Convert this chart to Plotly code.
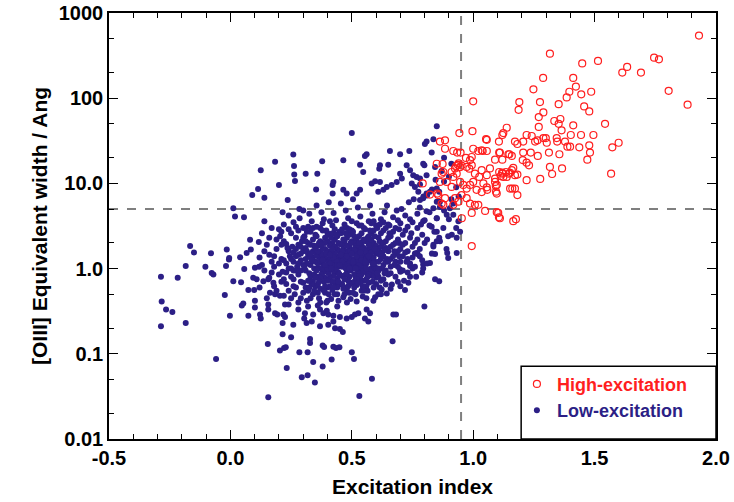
import plotly.graph_objects as go

# ---------------- data ----------------
high_pts = [
    (1.93,543),(1.316,333),(1.449,256),(1.514,274),(1.288,173),(1.412,173),(1.423,137),(1.396,119),
    (1.445,111),(1.486,119),(1.385,102),(1.248,127),(1.614,200),(1.634,233),(1.691,200),(1.745,299),
    (1.765,286),(1.805,122),(1.883,84),(1.190,90),(1.187,73),(1.275,90),(1.352,85),(1.457,80),
    (1.478,70),(1.270,60),(1.289,68),(1.334,54),(1.359,57),(1.352,50),(1.412,48),(1.543,50),
    (1.138,45),(1.124,39),(1.120,37),(1.270,46),(1.364,42),(1.220,37),(1.241,36),(1.289,34),
    (1.299,34),(1.402,37),(1.444,37),(1.495,37),(1.053,33),(1.172,31),(1.182,29),(1.206,31),
    (1.255,31),(1.265,32),(1.303,30),(1.344,34),(1.346,31),(1.378,31),(1.388,27),(1.399,27),
    (1.437,26.5),(1.478,28),(1.481,23),(1.470,19),(1.573,26.5),(1.599,30),(1.039,24),(1.056,24),
    (1.107,23),(1.149,22),(1.159,21),(1.206,23),(1.237,23),(1.266,21),(1.312,23),(1.355,22),
    (1.090,19),(1.120,19),(1.204,18.8),(1.220,17.5),(1.230,16.3),(1.316,15.6),(1.325,12.9),(1.366,15),
    (1.276,11.3),(1.568,13),(1.069,15),(1.035,14.3),(1.107,13.6),(1.119,13.4),(1.135,13.6),(1.147,13),
    (1.159,14.3),(1.165,15.2),(1.113,12.2),(1.124,11.9),(1.138,11.9),(1.172,12.5),(1.182,12.7),(1.220,10.9),
    (1.042,10),(1.056,9.0),(1.058,8.4),(1.090,10.4),(1.093,9.3),(1.094,8.0),(1.097,7.6),(1.152,8.7),
    (1.161,8.7),(1.182,7.3),(1.049,4.75),(1.097,4.6),(1.106,4.0),(1.165,3.6),(1.176,3.8),
    (1.000,92),(0.943,39),(0.997,41),(0.863,31),(0.918,24),(0.934,23),(0.948,23),(0.884,25.5),
    (1.056,32.5),(1.106,31),(1.000,25.5),(1.021,24),(1.035,24.5),(1.110,23),(1.145,22),(0.970,19.9),
    (0.987,18.8),(0.994,20.4),(0.930,16),(0.937,16.5),(0.945,15.5),(0.952,16.2),(0.925,15),(0.940,17.2),
    (0.874,16.9),(0.877,13.6),(0.911,13.6),(0.918,11.9),(0.932,13),(0.973,15.6),(0.984,14.9),(0.994,16.3),
    (1.007,13),(1.025,11.9),(1.056,12.5),(1.090,11.4),(1.121,13),(1.152,13.3),(0.863,10.4),(0.891,10.4),
    (0.911,9.1),(0.946,10.4),(0.959,9.6),(0.973,8.7),(0.987,9.6),(1.000,10.4),(1.014,8.4),(1.035,7.9),
    (1.097,9.6),(1.172,8.7),(0.856,7.3),(0.884,6.7),(0.925,6.7),(0.952,7.3),(0.973,6.7),(0.877,5.6),
    (0.918,5.6),(0.987,5.8),(1.007,5.6),(1.021,5.6),(0.994,4.5),(1.103,4.5),(1.110,3.9),(0.994,1.84),
    (0.792,10),(0.822,7.4),(0.870,5.8),(0.939,6.1),(0.953,3.9),(0.850,17),(0.870,13),(0.884,32),(0.852,7.6),
]

low_pts = [
    # outskirts
    (0.259,21.9),(0.184,17.9),(0.125,14.3),(0.262,16.0),(0.263,12.7),(0.266,10.7),(0.310,13.0),(0.200,9.6),
    (0.114,8.6),(0.090,7.3),(0.140,6.8),(0.236,6.4),(0.012,5.1),(0.019,4.1),(0.056,4.0),(0.140,3.6),
    (0.215,4.6),(0.284,5.0),(0.300,4.8),(-0.166,1.84),(-0.150,1.55),(-0.080,1.51),(-0.015,1.68),(0.040,1.36),
    (-0.005,1.33),(0.081,2.18),(0.117,2.05),(0.084,1.68),(-0.286,0.80),(-0.217,0.78),(-0.283,0.41),(-0.265,0.33),
    (-0.239,0.31),(-0.286,0.21),(-0.184,0.23),(-0.059,0.087),(-0.184,1.07),(-0.103,1.05),(-0.077,0.89),(-0.070,0.85),
    (-0.018,1.07),(-0.006,1.28),(0.067,1.52),(0.012,0.71),(0.044,0.69),(-0.023,0.49),(-0.002,0.28),(0.074,0.28),
    (0.047,0.37),(0.053,0.39),(0.074,0.56),(0.098,0.56),(0.057,0.99),(0.094,0.78),(0.108,0.75),(0.101,1.02),
    (0.118,1.05),(0.101,0.42),(0.101,0.35),(0.122,0.29),(0.125,0.26),(0.156,0.38),(0.156,0.33),(0.184,0.30),
    (0.193,0.29),(0.218,0.29),(0.225,0.27),(0.259,0.22),(0.304,0.26),(0.215,0.23),(0.215,0.17),(0.250,0.156),
    (0.154,0.13),(0.204,0.109),(0.221,0.117),(0.228,0.119),(0.284,0.104),(0.318,0.104),(0.232,0.068),(0.294,0.053),
    (0.318,0.056),(0.156,0.031),(0.163,0.52),(0.184,0.50),(0.204,0.48),(0.136,0.71),(0.156,0.75),(0.177,0.68),
    (0.799,0.36),(0.671,0.29),(0.682,0.29),(0.668,0.14),(0.531,0.032),(0.583,0.051),(0.500,0.104),(0.509,0.087),
    (0.424,0.121),(0.435,0.117),(0.449,0.119),(0.380,0.125),(0.386,0.12),(0.328,0.149),(0.328,0.134),(0.341,0.080),
    (0.380,0.071),(0.417,0.086),(0.348,0.046),(0.463,0.18),(0.451,0.195),(0.431,0.20),(0.369,0.21),(0.403,0.22),
    (0.424,0.24),(0.479,0.26),(0.500,0.27),(0.513,0.29),(0.527,0.30),(0.554,0.26),(0.568,0.24),(0.561,0.33),
    (0.575,0.30),(0.589,0.42),(0.596,0.46),(0.609,0.50),(0.644,0.51),(0.623,0.57),(0.719,0.56),(0.733,0.68),
    (0.843,0.75),(0.860,0.71),(0.794,1.12),(0.794,1.0),(0.822,1.16),(0.771,1.48),(0.843,1.48),(0.893,1.52),
    (0.740,1.07),(0.698,0.98),(0.307,0.30),(0.341,0.29),(0.383,0.30),(0.403,0.29),(0.424,0.28),(0.451,0.27),
    (0.314,0.23),(0.335,0.24),(0.369,0.33),(0.397,0.32),
    (0.850,47),(0.500,39),(0.808,31),(0.836,33),(0.801,29),(0.358,13.0),(0.378,18.2),(0.465,18.7),
    (0.561,22),(0.554,21),(0.657,24),(0.699,22),(0.737,24),(0.534,16.6),(0.547,13.6),(0.616,16.3),
    (0.613,14.9),(0.650,16.6),(0.726,16.3),(0.740,14.3),(0.753,12.5),(0.767,11.9),(0.799,16.3),(0.424,10.4),
    (0.421,9.6),(0.465,8.4),(0.353,8.5),(0.421,7.6),(0.479,7.6),(0.520,7.6),(0.534,8.4),(0.582,10),
    (0.596,10.6),(0.616,10.4),(0.699,13),(0.706,11.4),(0.685,10.4),(0.664,9.6),(0.644,9.1),(0.630,8.4),
    (0.609,8.0),(0.747,10),(0.760,9.1),(0.781,9.7),(0.774,8.0),(0.781,6.4),(0.808,7.6),(0.850,6.1),
    (0.863,5.3),(0.904,5.1),(0.918,5.8),(0.939,3.6),(0.946,2.7),(0.912,2.5),(0.897,2.4),(0.850,2.7),
    (0.767,1.52),(0.836,1.82),(0.932,1.52),(0.897,1.33),
    (0.829,23),(0.794,17),(0.843,15.6),(0.808,12.5),(0.781,11.4),(0.850,8.7),(0.822,8.0),(0.794,6.7),
    (0.863,6.1),(0.836,5.1),(0.808,4.7),(0.891,4.3),(0.850,3.9),(0.918,4.3),(0.794,3.6),(0.829,3.1),
    (0.877,3.0),(0.932,2.3),(0.863,2.1),(0.836,1.9),
    # body of the cloud
    (0.13,2.6),(0.15,1.9),(0.17,1.2),(0.14,0.95),(0.18,0.62),(0.16,1.45),(0.19,2.2),(0.13,1.1),
    (0.20,0.85),(0.12,0.6),(0.17,3.0),(0.15,0.45),(0.19,1.7),(0.14,1.6),(0.18,1.05),(0.16,0.78),
    (0.20,2.9),(0.12,1.35),
    (0.21,1.3),(0.22,2.1),(0.23,0.9),(0.24,1.6),(0.21,0.7),(0.22,3.3),(0.23,1.15),(0.24,0.55),
    (0.25,2.6),(0.22,0.48),(0.21,1.9),(0.25,1.0),(0.23,0.66),(0.24,4.2),(0.205,2.4),(0.245,1.4),
    (0.215,0.92),(0.235,1.75),(0.225,0.38),(0.25,0.8),
    (0.26,1.2),(0.27,2.3),(0.28,0.85),(0.29,1.5),(0.26,3.5),(0.27,0.6),(0.28,1.9),(0.29,0.45),
    (0.30,1.1),(0.26,0.75),(0.27,1.4),(0.28,2.8),(0.29,0.95),(0.30,0.68),(0.255,1.8),(0.265,0.5),
    (0.275,1.05),(0.285,3.9),(0.295,2.1),(0.30,1.6),(0.26,0.95),(0.28,0.4),(0.29,1.25),(0.27,1.7),(0.30,0.52),
    (0.31,1.3),(0.32,2.0),(0.33,0.8),(0.34,1.6),(0.31,0.6),(0.32,3.1),(0.33,1.1),(0.34,0.5),
    (0.35,2.5),(0.31,0.95),(0.32,1.45),(0.33,1.9),(0.34,0.7),(0.35,1.2),(0.305,2.4),(0.315,0.42),
    (0.325,0.88),(0.335,3.6),(0.345,1.0),(0.35,0.62),(0.31,1.75),(0.32,0.55),(0.33,2.7),(0.34,1.35),
    (0.345,0.85),(0.315,1.15),(0.325,4.4),(0.335,0.65),(0.34,2.2),(0.35,1.55),
    (0.36,1.4),(0.37,2.1),(0.38,0.9),(0.39,1.7),(0.36,0.65),(0.37,3.0),(0.38,1.15),(0.39,0.52),
    (0.40,2.6),(0.36,1.0),(0.37,1.55),(0.38,2.0),(0.39,0.78),(0.40,1.25),(0.355,2.4),(0.365,0.45),
    (0.375,0.85),(0.385,3.8),(0.395,1.05),(0.40,0.6),(0.36,1.85),(0.37,0.58),(0.38,2.8),(0.39,1.35),
    (0.395,0.92),(0.365,1.2),(0.375,4.6),(0.385,0.7),(0.39,2.3),(0.40,1.6),(0.36,0.8),(0.38,1.45),
    (0.37,1.0),(0.395,0.4),(0.355,5.5),
    (0.41,1.3),(0.42,2.0),(0.43,0.88),(0.44,1.7),(0.41,0.62),(0.42,3.2),(0.43,1.15),(0.44,0.5),
    (0.45,2.7),(0.41,1.0),(0.42,1.5),(0.43,2.2),(0.44,0.76),(0.45,1.3),(0.405,2.5),(0.415,0.44),
    (0.425,0.82),(0.435,3.7),(0.445,1.05),(0.45,0.65),(0.41,1.85),(0.42,0.56),(0.43,2.9),(0.44,1.4),
    (0.445,0.9),(0.415,1.2),(0.425,4.5),(0.435,0.7),(0.44,2.4),(0.45,1.6),(0.41,0.78),(0.43,1.5),
    (0.42,1.1),(0.445,0.42),(0.405,6.0),(0.435,1.25),(0.415,1.6),(0.425,0.95),
    (0.46,1.4),(0.47,2.1),(0.48,0.9),(0.49,1.8),(0.46,0.66),(0.47,3.3),(0.48,1.2),(0.49,0.52),
    (0.50,2.8),(0.46,1.05),(0.47,1.55),(0.48,2.3),(0.49,0.8),(0.50,1.3),(0.455,2.6),(0.465,0.46),
    (0.475,0.85),(0.485,3.9),(0.495,1.1),(0.50,0.68),(0.46,1.9),(0.47,0.6),(0.48,3.0),(0.49,1.45),
    (0.495,0.95),(0.465,1.25),(0.475,4.8),(0.485,0.72),(0.49,2.5),(0.50,1.65),(0.46,0.82),(0.48,1.6),
    (0.47,1.15),(0.495,0.44),(0.455,5.8),(0.485,1.3),(0.465,1.7),(0.475,1.0),(0.49,1.15),(0.50,2.1),
    (0.51,1.5),(0.52,2.2),(0.53,0.95),(0.54,1.9),(0.51,0.7),(0.52,3.4),(0.53,1.25),(0.54,0.55),
    (0.55,3.0),(0.51,1.1),(0.52,1.6),(0.53,2.4),(0.54,0.85),(0.55,1.4),(0.505,2.7),(0.515,0.5),
    (0.525,0.9),(0.535,4.1),(0.545,1.15),(0.55,0.72),(0.51,2.0),(0.52,0.64),(0.53,3.2),(0.54,1.5),
    (0.545,1.0),(0.515,1.3),(0.525,5.2),(0.535,0.76),(0.54,2.6),(0.55,1.75),(0.51,0.86),(0.53,1.7),
    (0.52,1.2),(0.545,0.47),(0.505,6.5),(0.535,1.35),(0.515,1.8),(0.525,1.05),
    (0.56,1.6),(0.57,2.4),(0.58,1.0),(0.59,2.0),(0.56,0.75),(0.57,3.6),(0.58,1.3),(0.59,0.6),
    (0.60,3.2),(0.56,1.15),(0.57,1.7),(0.58,2.6),(0.59,0.9),(0.60,1.5),(0.555,2.9),(0.565,0.55),
    (0.575,0.95),(0.585,4.4),(0.595,1.2),(0.60,0.78),(0.56,2.1),(0.57,0.68),(0.58,3.4),(0.59,1.6),
    (0.595,1.05),(0.565,1.4),(0.575,5.5),(0.585,0.82),(0.59,2.8),(0.60,1.85),(0.56,0.9),(0.58,1.8),(0.57,1.25),
    (0.61,1.7),(0.62,2.6),(0.63,1.1),(0.64,2.1),(0.61,0.8),(0.62,3.8),(0.63,1.4),(0.64,0.65),
    (0.65,3.3),(0.61,1.2),(0.62,1.8),(0.63,2.8),(0.64,0.95),(0.65,1.6),(0.605,3.0),(0.615,0.6),
    (0.625,1.0),(0.635,4.6),(0.645,1.3),(0.65,0.85),(0.61,2.3),(0.62,0.72),(0.63,3.5),(0.64,1.75),
    (0.645,5.5),(0.615,1.45),(0.625,2.0),(0.635,0.88),
    (0.66,1.8),(0.67,2.7),(0.68,1.2),(0.69,2.2),(0.66,0.88),(0.67,4.0),(0.68,1.5),(0.69,0.7),
    (0.70,3.4),(0.66,1.3),(0.67,1.9),(0.68,3.0),(0.69,1.05),(0.70,1.7),(0.655,3.2),(0.665,0.65),
    (0.675,1.1),(0.685,4.8),(0.695,1.4),(0.70,0.92),(0.66,2.4),(0.68,0.8),(0.69,3.7),(0.695,2.0),
    (0.71,1.9),(0.72,2.8),(0.73,1.3),(0.74,2.3),(0.71,0.95),(0.72,4.2),(0.73,1.6),(0.74,0.8),
    (0.75,3.5),(0.71,1.4),(0.72,2.0),(0.73,3.1),(0.74,1.15),(0.75,1.8),(0.705,5.0),(0.715,0.72),
    (0.725,1.2),(0.735,6.0),(0.745,2.6),(0.75,1.0),
    (0.76,2.0),(0.77,3.0),(0.78,1.4),(0.79,2.5),(0.76,1.05),(0.77,4.4),(0.78,1.7),(0.79,0.9),
    (0.80,3.7),(0.76,1.5),(0.77,2.2),(0.78,5.2),(0.79,1.25),(0.80,2.0),(0.755,6.5),(0.765,0.8),
    (0.785,3.3),(0.795,7.0),
    (0.81,2.2),(0.82,3.2),(0.83,1.5),(0.84,2.7),(0.81,1.15),(0.82,4.6),(0.85,3.9),(0.81,7.2),
    (0.83,8.5),(0.85,2.1),(0.845,11),
    (0.86,2.3),(0.88,4.8),(0.90,3.8),(0.91,6.5),(0.86,8.0),(0.88,10.5),(0.93,3.0),(0.87,14),
    (0.90,12),(0.94,7.0),(0.89,1.7),(0.93,9.0),(0.91,17),(0.88,20),
    # densest part of the cloud
    (0.305,1.05),(0.315,1.6),(0.325,0.72),(0.33,1.35),(0.345,1.85),(0.355,0.95),(0.36,1.15),(0.365,2.0),
    (0.37,0.78),(0.375,1.3),(0.38,1.7),(0.385,1.0),(0.39,0.62),(0.395,1.5),(0.40,2.1),(0.405,0.88),
    (0.41,1.15),(0.415,2.3),(0.42,0.7),(0.425,1.35),(0.43,1.8),(0.435,1.0),(0.44,1.2),(0.445,2.0),
    (0.45,0.85),(0.455,1.1),(0.46,1.6),(0.465,2.2),(0.47,0.75),(0.475,1.4),(0.48,1.85),(0.485,1.05),
    (0.49,0.65),(0.495,1.6),(0.50,1.0),(0.505,1.2),(0.51,2.4),(0.515,0.8),(0.52,1.4),(0.525,1.9),
    (0.53,1.1),(0.535,0.68),(0.54,1.25),(0.545,2.1),(0.55,0.95),(0.555,1.6),(0.56,1.3),(0.565,2.3),
    (0.57,0.85),(0.575,1.5),(0.58,2.0),(0.585,1.15),(0.59,1.35),(0.595,2.4),(0.60,1.0),(0.605,1.6),
    (0.61,0.95),(0.615,2.1),(0.62,1.3),(0.625,1.55),(0.63,2.0),(0.64,1.2),(0.65,2.3),(0.33,1.5),
    (0.35,0.78),(0.37,1.25),(0.39,2.0),(0.41,1.45),(0.43,0.62),(0.45,1.95),(0.47,1.3),(0.49,2.9),
    (0.51,1.65),(0.53,0.82),(0.55,2.2),(0.57,1.9),(0.59,1.15),(0.46,1.2),(0.48,1.4),(0.50,1.5),
    (0.52,1.0),(0.44,1.1),(0.42,1.7),(0.40,1.0),(0.38,1.25),(0.36,1.6),(0.54,1.7),(0.56,1.0),
    (0.58,1.55),(0.28,1.15),(0.29,1.8),(0.27,0.95),(0.25,1.3),(0.26,1.55),(0.30,2.3),(0.24,1.0),(0.22,1.25),
    # mid-density halo
    (0.16,2.3),(0.18,1.4),(0.20,1.15),(0.22,0.75),(0.24,2.9),(0.26,0.62),(0.28,1.45),(0.30,3.0),
    (0.32,0.72),(0.34,3.0),(0.36,0.52),(0.38,3.4),(0.40,0.72),(0.42,2.6),(0.44,0.6),(0.46,2.9),
    (0.48,0.55),(0.50,3.6),(0.52,0.75),(0.54,3.2),(0.56,0.62),(0.58,2.2),(0.60,0.66),(0.62,1.5),
    (0.64,3.0),(0.66,1.05),(0.68,2.0),(0.70,1.2),(0.72,1.55),(0.74,3.8),
    (0.17,0.9),(0.19,0.55),(0.21,2.7),(0.23,1.95),(0.25,0.45),(0.27,3.1),(0.29,0.7),(0.31,2.1),
    (0.33,0.45),(0.35,1.75),(0.37,0.4),(0.39,1.1),(0.41,3.6),(0.43,0.5),(0.45,1.1),(0.47,0.5),
    (0.49,1.0),(0.51,0.6),(0.53,2.0),(0.55,0.55),(0.57,1.4),(0.59,3.6),(0.61,1.0),(0.63,0.75),
    (0.65,1.2),(0.67,1.4),(0.69,1.6),(0.71,2.5),(0.73,0.9),(0.75,1.35),
    (0.315,2.7),(0.335,1.25),(0.355,3.1),(0.375,1.9),(0.395,2.8),(0.415,1.0),(0.435,2.5),(0.455,1.45),
    (0.475,2.6),(0.495,2.0),(0.515,1.0),(0.535,1.55),(0.555,1.2),(0.575,2.8),(0.595,1.7),(0.615,3.3),
    (0.635,1.65),(0.655,2.6),(0.675,1.6),(0.695,2.9),
    (0.325,0.6),(0.345,0.55),(0.365,0.7),(0.385,0.55),(0.405,0.5),(0.425,0.6),(0.445,0.7),(0.465,0.58),
    (0.485,0.62),(0.505,0.52),(0.525,0.68),(0.545,0.62),(0.565,0.8),(0.585,0.7),(0.605,0.88),
    (0.24,0.38),(0.28,0.33),(0.32,0.36),(0.36,0.37),(0.40,0.42),(0.44,0.36),(0.48,0.4),(0.52,0.41),
    (0.56,0.45),(0.62,0.5),(0.66,0.58),(0.70,0.62),
]

x_tick_vals = [-0.5, 0.0, 0.5, 1.0, 1.5, 2.0]
x_tick_text = ["-0.5", "0.0", "0.5", "1.0", "1.5", "2.0"]
y_tick_vals = [0.01, 0.1, 1, 10, 100, 1000]
y_tick_text = ["0.01", "0.1", "1.0", "10.0", "100", "1000"]

x_cut = 0.95
y_cut = 5.0

# ---------------- figure ----------------
NAVY = "#2c1f86"
RED = "#ff1f1f"
FONT = "Liberation Sans, Arial, Helvetica, sans-serif"

low_x = [p[0] for p in low_pts]
low_y = [p[1] for p in low_pts]
high_x = [p[0] for p in high_pts]
high_y = [p[1] for p in high_pts]

fig = go.Figure()
fig.add_trace(go.Scatter(
    x=low_x, y=low_y, mode="markers",
    name=f"<span style='color:{NAVY}'><b>Low-excitation</b></span>",
    marker=dict(symbol="circle", size=6, color=NAVY, line=dict(width=0)),
))
fig.add_trace(go.Scatter(
    x=high_x, y=high_y, mode="markers",
    name=f"<span style='color:{RED}'><b>High-excitation</b></span>",
    marker=dict(symbol="circle-open", size=7, color=RED, line=dict(width=1.2, color=RED)),
))

# dashed separators
fig.add_shape(type="line", xref="x", yref="paper", x0=x_cut, x1=x_cut, y0=0, y1=1,
              line=dict(color="#7f7f7f", width=2, dash="dash"), layer="below")
fig.add_shape(type="line", xref="paper", yref="y", x0=0, x1=1, y0=y_cut, y1=y_cut,
              line=dict(color="#7f7f7f", width=2, dash="dash"), layer="below")
# legend box
fig.add_shape(type="rect", xref="paper", yref="paper", x0=0.679, x1=1.0, y0=0, y1=0.171,
              line=dict(color="black", width=1.5), fillcolor="white", layer="above")

axis_common = dict(
    showline=True, linecolor="black", linewidth=1.5, mirror="allticks",
    ticks="inside", ticklen=9, tickwidth=1.2, tickcolor="black",
    showgrid=False, zeroline=False, automargin=False, ticklabeloverflow="allow",
    tickfont=dict(family=FONT, size=20, color="black", weight="bold"),
)
title_font = dict(family=FONT, size=21, color="black", weight="bold")

fig.update_xaxes(
    range=[-0.5, 2.0], tickvals=x_tick_vals, ticktext=x_tick_text,
    minor=dict(ticks="inside", ticklen=5, tickwidth=1, tickcolor="black", dtick=0.1, showgrid=False),
    title=dict(text="Excitation index", font=title_font, standoff=12),
    **axis_common,
)
fig.update_yaxes(
    type="log", range=[-2, 3], tickvals=y_tick_vals, ticktext=y_tick_text,
    minor=dict(ticks="inside", ticklen=5, tickwidth=1, tickcolor="black", showgrid=False),
    title=dict(text="[OIII] Equivalent width / Ang", font=title_font, standoff=5),
    **axis_common,
)

fig.update_layout(
    width=734, height=502,
    margin=dict(l=109, r=18, t=13, b=63),
    paper_bgcolor="white", plot_bgcolor="white",
    showlegend=True,
    legend=dict(x=0.672, y=0.172, xanchor="left", yanchor="top",
                bgcolor="rgba(0,0,0,0)", borderwidth=0, traceorder="reversed",
                font=dict(family=FONT, size=18), itemwidth=30, tracegroupgap=0),
)

fig.write_html("out.html")
